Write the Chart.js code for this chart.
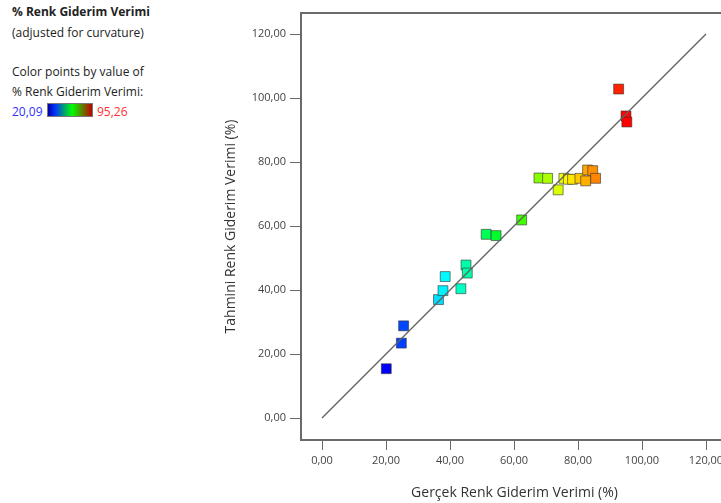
<!DOCTYPE html>
<html>
<head>
<meta charset="utf-8">
<script src="https://cdn.jsdelivr.net/npm/chart.js@4.4.1/dist/chart.umd.min.js"></script>
<style>
    html, body { margin: 0; padding: 0; background: #fff; overflow: hidden; width: 721px; height: 503px; }
    body { position: relative; font-family: 'Open Sans', sans-serif; color: #222; font-size: 12px; }
    .note { position: absolute; left: 12px; white-space: nowrap; line-height: 16px; }
    .scale-box { position: absolute; left: 47px; top: 103px; width: 44px; height: 12px; border: 1px solid #777;
        background: linear-gradient(to right, #0000a0, #0030ff 15%, #00ff00 55%, #c00000); }
    #wrap { position: absolute; left: 200px; top: 0; width: 540px; height: 503px; }
</style>
</head>
<body>
<div class="note" style="top:4px;font-weight:bold;">% Renk Giderim Verimi</div>
<div class="note" style="top:25px;">(adjusted for curvature)</div>
<div class="note" style="top:64px;">Color points by value of</div>
<div class="note" style="top:84px;">% Renk Giderim Verimi:</div>
<div class="note" style="top:104px;color:#3030ff;">20,09</div>
<div class="scale-box"></div>
<div class="note" style="top:104px;left:97px;color:#ff3030;">95,26</div>
<div id="wrap"><canvas id="chart" width="540" height="503"></canvas></div>
<script>
// gerçek (actual) vs tahmini (predicted) renk giderim verimi
const actualValues = [20.09, 24.8, 25.5, 36.4, 37.8, 38.5, 43.4, 45.0, 45.4, 51.3, 54.4, 62.4,
    67.8, 70.5, 73.8, 75.6, 77.0, 78.3, 80.6, 82.4, 83.0, 84.6, 85.5, 92.7, 95.0, 95.26];
const predictedValues = [15.4, 23.4, 28.8, 37.0, 39.8, 44.2, 40.4, 47.8, 45.3, 57.4, 57.0, 61.9,
    75.0, 74.9, 71.3, 74.9, 74.6, 74.6, 74.9, 74.1, 77.5, 77.3, 74.9, 102.8, 94.4, 92.5];
const fitLineX = [0, 120];
const fitLineY = [0, 120];
const tickValues = [0, 20, 40, 60, 80, 100, 120];

const colorMin = 20.09;
const colorMax = 95.26;

const valueColor = (v) => {
    const t = Math.min(1, Math.max(0, (v - colorMin) / (colorMax - colorMin)));
    return `hsl(${Math.round(240 * (1 - t))}, 100%, 50%)`;
};

const fmt = (v) => Number(v).toFixed(2).replace('.', ',');

const boxPlugin = {
    id: 'box',
    beforeDatasetsDraw(chart) {
        const { ctx, chartArea: a } = chart;
        ctx.save();
        ctx.strokeStyle = '#6a6a6a';
        ctx.lineWidth = 2;
        ctx.strokeRect(a.left, a.top, a.right - a.left, a.bottom - a.top);
        ctx.restore();
    }
};

const axisCommon = (titleText) => ({
    type: 'linear',
    afterBuildTicks: (axis) => { axis.ticks = tickValues.map((v) => ({ value: v })); },
    grid: { drawOnChartArea: false, drawTicks: true, color: '#6a6a6a', lineWidth: 1 },
    border: { color: '#6a6a6a', width: 2 },
    ticks: {
        color: '#444',
        font: { family: 'Open Sans', size: 11 },
        padding: 4,
        maxRotation: 0,
        autoSkip: false,
        callback: (value) => fmt(value)
    },
    title: {
        display: true,
        text: titleText,
        color: '#333',
        font: { family: 'Open Sans', size: 14 }
    }
});

const xAxis = axisCommon('Gerçek Renk Giderim Verimi (%)');
xAxis.min = -6.5625;
xAxis.max = 126.875;
xAxis.grid.tickLength = 10;
xAxis.title.padding = { top: 0, bottom: 2 };
xAxis.afterFit = (s) => { s.height = 63; s.paddingLeft = 0; s.paddingRight = 0; };

const yAxis = axisCommon('Tahmini Renk Giderim Verimi (%)');
yAxis.min = -6.875;
yAxis.max = 126.5625;
yAxis.grid.tickLength = 11;
yAxis.title.padding = { top: 23, bottom: 0 };
yAxis.afterFit = (s) => { s.width = 101; s.paddingTop = 0; s.paddingBottom = 0; };

new Chart(document.getElementById('chart'), {
    type: 'scatter',
    data: {
        datasets: [
            {
                type: 'line',
                data: fitLineX.map((x, i) => ({ x, y: fitLineY[i] })),
                borderColor: '#606060',
                borderWidth: 1.2,
                pointRadius: 0,
                fill: false,
                order: 0
            },
            {
                data: actualValues.map((x, i) => ({ x, y: predictedValues[i] })),
                pointStyle: 'rect',
                pointRadius: 7,
                pointBackgroundColor: actualValues.map(valueColor),
                pointBorderColor: 'rgba(50, 50, 50, 0.6)',
                pointBorderWidth: 1,
                order: 1
            }
        ]
    },
    options: {
        responsive: false,
        animation: false,
        layout: { padding: { top: 13, right: 12, left: 0, bottom: 0 } },
        scales: { x: xAxis, y: yAxis },
        plugins: {
            legend: { display: false },
            tooltip: { enabled: false }
        }
    },
    plugins: [boxPlugin]
});
</script>
</body>
</html>
